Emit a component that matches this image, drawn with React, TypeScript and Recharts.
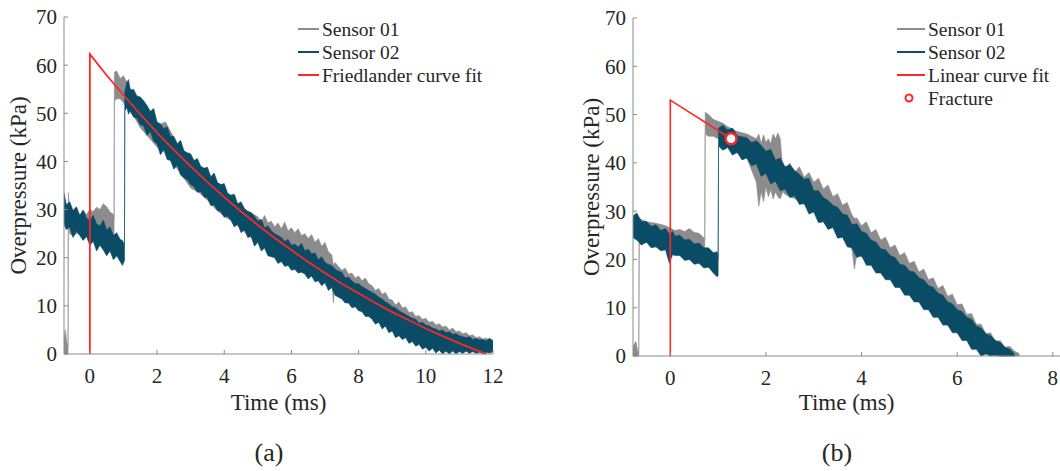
import { Area, ComposedChart, Legend, Line, Scatter, XAxis, YAxis } from 'recharts'

const SERIF = '"Liberation Serif", "Times New Roman", serif'
const AXIS = '#8a8a8a'
const INK = '#262626'
const GRAY = '#8c8c8c'
const TEAL = '#0a4c66'
const RED = '#ff2626'

const yTicks = [0, 10, 20, 30, 40, 50, 60, 70]
const xTicksA = [0, 2, 4, 6, 8, 10, 12]
const xTicksB = [0, 2, 4, 6, 8]

// [time ms, low kPa, high kPa] envelope of the noisy traces
const sensor01A = [
  [-0.77, 0, 3], [-0.73, 0, 5], [-0.69, 0, 2.5], [-0.65, 0, 1.5], [-0.64, 27, 33.5], [-0.6, 25, 30],
  [-0.5, 24.5, 29], [-0.4, 25, 29.5], [-0.3, 25, 28.6], [-0.2, 25.5, 29.8], [-0.1, 25, 29], [0, 25.5, 30],
  [0.1, 25.8, 29.6], [0.2, 26, 30.5], [0.3, 26.5, 30], [0.4, 26.5, 31.2], [0.5, 26, 30.6], [0.6, 25.5, 29.5],
  [0.7, 24.5, 29], [0.72, 24.5, 28], [0.73, 52.5, 58.5], [0.8, 53, 58.8], [0.9, 53, 57.2], [1.0, 52.2, 57.8],
  [1.1, 51, 56.5], [1.3, 49.5, 54], [1.5, 47, 52], [1.75, 45, 50], [2.0, 43, 47.5], [2.25, 42, 48.2],
  [2.5, 39.5, 45], [2.75, 37, 42], [3.0, 34.5, 40], [3.25, 33.5, 38.5], [3.5, 32, 36.8], [3.75, 30, 35],
  [4.0, 28.6, 33], [4.25, 27.5, 31.5], [4.5, 26, 30.5], [4.75, 24.5, 29.5], [5.0, 23.5, 28.5], [5.1, 23, 27.4],
  [5.2, 22.8, 28.8], [5.3, 22.4, 27.2], [5.4, 22.2, 27.6], [5.5, 22, 26.4], [5.6, 21.8, 27.2], [5.7, 21.6, 26],
  [5.8, 21.5, 27.4], [5.9, 21.2, 25.6], [6.0, 21, 26.2], [6.1, 20.8, 25.2], [6.2, 20.6, 26], [6.3, 20.4, 24.6],
  [6.4, 20, 25], [6.5, 19.5, 24], [6.6, 19.2, 24.8], [6.7, 18.8, 23.2], [6.8, 18.2, 24], [6.9, 17.6, 22.4],
  [7.0, 17, 23.2], [7.1, 16.2, 21.2], [7.2, 15.5, 20.6], [7.25, 10.6, 18.5], [7.3, 15, 19], [7.4, 14.4, 18.2],
  [7.5, 13.8, 17.4], [7.6, 13.2, 17.8], [7.7, 12.8, 16.6], [7.8, 12.4, 16.8], [7.9, 12, 15.8], [8.0, 11.5, 16.2],
  [8.1, 11, 15.2], [8.2, 10.6, 15.8], [8.3, 10.2, 14.6], [8.4, 9.6, 14.2], [8.5, 9, 13.2], [8.6, 8.6, 13.6],
  [8.7, 8.2, 12.4], [8.8, 7.6, 12.8], [8.9, 7, 11.4], [9.0, 6.5, 11.2], [9.1, 6, 10.2], [9.2, 5.6, 10.8],
  [9.3, 5.2, 9.6], [9.4, 4.8, 9.8], [9.5, 4.4, 8.6], [9.6, 4, 8.8], [9.7, 3.6, 7.8], [9.8, 3.4, 8],
  [9.9, 3, 7.2], [10.0, 2.8, 7.4], [10.1, 2.5, 6.6], [10.2, 2.2, 6.8], [10.3, 2, 6], [10.4, 1.8, 6.3],
  [10.5, 1.6, 5.6], [10.6, 1.4, 5.8], [10.7, 1.2, 5], [10.8, 1.1, 5.4], [10.9, 1, 4.6], [11.0, 0.9, 4.8],
  [11.1, 0.8, 4.2], [11.2, 0.6, 4.4], [11.3, 0.5, 3.8], [11.4, 0.4, 4], [11.5, 0.3, 3.4], [11.6, 0.2, 3.6],
  [11.7, 0.2, 3.1], [11.8, 0.2, 3.3], [11.9, 0.3, 2.8], [12.0, 0.5, 3],
]

const sensor02A = [
  [-0.77, 27, 33.5], [-0.7, 25.8, 31], [-0.6, 26.4, 31.6], [-0.5, 24.2, 29.8], [-0.4, 25.6, 30.6], [-0.3, 24.6, 28.8],
  [-0.2, 23.6, 29.9], [-0.1, 24.4, 28.2], [0, 22.6, 27.8], [0.1, 23.4, 28.8], [0.2, 21.4, 27], [0.3, 22.6, 26.6],
  [0.4, 21.6, 27.8], [0.5, 20.4, 25.8], [0.6, 21.4, 26.4], [0.7, 19.6, 24.6], [0.8, 20.4, 25.2], [0.9, 19.2, 23.8],
  [0.97, 18.4, 23.6], [1.03, 19.4, 22.6], [1.04, 50.5, 54.5], [1.1, 51.2, 56.4], [1.15, 49.8, 57], [1.2, 50.6, 54.8],
  [1.3, 49.2, 55], [1.4, 49, 53.6], [1.5, 47.6, 53.4], [1.6, 47.4, 52.6], [1.7, 45.4, 51.6], [1.8, 46.2, 50.4],
  [1.9, 44.2, 51], [2.0, 43.6, 48.2], [2.1, 41.4, 47.8], [2.2, 42.4, 46.8], [2.3, 40.4, 47.2], [2.4, 40.2, 45.2],
  [2.5, 38.4, 45.2], [2.6, 39.2, 43.6], [2.7, 37.2, 44.4], [2.8, 36.6, 42.2], [2.9, 36.2, 41.8], [3.0, 35.2, 41.6],
  [3.1, 34.8, 40.2], [3.2, 33.6, 40.6], [3.3, 33.8, 39], [3.4, 32.6, 38.6], [3.5, 32.4, 38.8], [3.6, 30.8, 36.8],
  [3.7, 31, 37.6], [3.8, 29.8, 35.6], [3.9, 29.6, 35.2], [4.0, 28.4, 35.4], [4.1, 28.6, 33.4], [4.2, 27.8, 33],
  [4.3, 26.4, 33.2], [4.4, 27, 31.2], [4.5, 25.2, 31.6], [4.6, 25.8, 30.2], [4.7, 24.2, 29.6], [4.8, 24.4, 29.4],
  [4.9, 22.4, 28.6], [5.0, 23.2, 27.6], [5.1, 21.4, 28], [5.2, 22, 26.2], [5.3, 20.4, 26.6], [5.4, 20.2, 25.6],
  [5.5, 20, 25], [5.6, 18.8, 24.6], [5.7, 19.2, 24.2], [5.8, 18.2, 23.4], [5.9, 18.4, 23.8], [6.0, 17.4, 22.6],
  [6.1, 17.6, 22.8], [6.2, 16.8, 22.2], [6.3, 17, 23], [6.4, 16.6, 21.4], [6.5, 15.6, 21.8], [6.6, 16.2, 20.8],
  [6.7, 15, 21], [6.8, 15.2, 19.6], [6.9, 14.2, 20.2], [7.0, 14.8, 19], [7.1, 13.2, 18.6], [7.2, 13.8, 18.4],
  [7.3, 12.2, 17.6], [7.4, 11.8, 17.2], [7.5, 11.4, 17], [7.6, 10.6, 15.8], [7.7, 10.6, 16], [7.8, 9.6, 15.2],
  [7.9, 9.8, 14.6], [8.0, 9, 14.6], [8.1, 8.8, 14], [8.2, 7.8, 13.6], [8.3, 7.8, 13.2], [8.4, 7.2, 12.8],
  [8.5, 6.2, 12.4], [8.6, 6.6, 11.8], [8.7, 5.2, 11.4], [8.8, 5.8, 10.8], [8.9, 4.4, 10.4], [9.0, 4.8, 9.8],
  [9.1, 3.4, 9.6], [9.2, 3.8, 9], [9.3, 3, 8.6], [9.4, 3.4, 8.2], [9.5, 2.2, 7.8], [9.6, 2.6, 7.4],
  [9.7, 1.6, 7.2], [9.8, 2, 6.4], [9.9, 1, 6.6], [10.0, 1.4, 6], [10.1, 0.6, 5.8], [10.2, 1.2, 5.4],
  [10.3, 0.2, 5.2], [10.4, 0.8, 4.8], [10.5, 0, 5], [10.6, 0.6, 4.4], [10.7, 0, 4.6], [10.8, 0.6, 4.1],
  [10.9, 0, 4.2], [11.0, 0.5, 3.8], [11.1, 0.1, 3.6], [11.2, 0.6, 3.4], [11.3, 0.1, 3.6], [11.4, 0.6, 3],
  [11.5, 0.1, 3.2], [11.6, 0.5, 2.9], [11.7, 0, 3], [11.8, 0.4, 2.7], [11.9, 0.2, 3.3], [12.0, 0.5, 2.6],
]

// Friedlander fit [time ms, kPa]
const fitA = [
  [0, 0], [0, 62.3], [0.5, 57.9], [1, 53.8], [1.5, 49.8], [2, 46.0], [2.5, 42.4], [3, 39.0], [3.5, 35.7],
  [4, 32.6], [4.5, 29.6], [5, 26.8], [5.5, 24.1], [6, 21.6], [6.5, 19.1], [7, 16.8], [7.5, 14.6], [8, 12.6],
  [8.5, 10.6], [9, 8.7], [9.5, 7.0], [10, 5.3], [10.5, 3.7], [11, 2.2], [11.5, 0.8], [11.8, 0],
]

const sensor01B = [
  [-0.78, 0, 2], [-0.72, 0, 3], [-0.68, 0, 1], [-0.66, 0, 0.5], [-0.65, 23, 28.5], [-0.5, 23.5, 27.8],
  [-0.3, 23, 27.5], [-0.1, 22.5, 27], [0.0, 22.5, 26.5], [0.1, 22.8, 26], [0.2, 23, 26.2], [0.3, 23, 25.8],
  [0.4, 22.6, 26.4], [0.5, 22.8, 25.6], [0.6, 22.3, 25.4], [0.7, 21.2, 24.5], [0.72, 21.5, 24], [0.73, 46, 50.5],
  [0.8, 45.5, 50], [0.9, 45.5, 49], [1.0, 45, 48.6], [1.1, 44.5, 48.2], [1.2, 43.5, 47.5], [1.4, 42, 46.5],
  [1.6, 41, 46], [1.8, 36, 45], [1.85, 31, 46], [1.9, 34, 44], [1.95, 32, 45.8], [2.0, 35, 44.2],
  [2.05, 33, 45], [2.1, 34.5, 44], [2.15, 32.5, 46], [2.2, 34, 45], [2.25, 33, 46.2], [2.3, 32.5, 45],
  [2.35, 34, 39], [2.4, 33.5, 38.4], [2.5, 33, 40], [2.6, 32.6, 38], [2.7, 32, 39.2], [2.8, 31.4, 37],
  [2.9, 31, 38], [3.0, 30, 36], [3.1, 29.2, 36.8], [3.2, 28.5, 34.6], [3.3, 27.8, 35.4], [3.4, 27, 33],
  [3.5, 26, 33.6], [3.6, 25, 31.2], [3.7, 24, 31.8], [3.8, 22, 29.2], [3.85, 18, 28.5], [3.9, 21, 28.6],
  [4.0, 20.5, 27], [4.1, 19.8, 27.8], [4.2, 19, 25.5], [4.3, 18.2, 26.2], [4.4, 17.5, 24], [4.5, 17, 24.6],
  [4.6, 16.2, 22.4], [4.7, 15.5, 23], [4.8, 14.8, 20.8], [4.9, 14, 21.4], [5.0, 13, 19.2], [5.1, 12.2, 19.6],
  [5.2, 11.5, 17.4], [5.3, 10.8, 18], [5.4, 10, 15.8], [5.5, 9, 16.2], [5.6, 8.2, 14], [5.7, 7.5, 14.6],
  [5.8, 6.8, 12.4], [5.9, 6, 12.8], [6.0, 5, 10.6], [6.1, 4, 10.8], [6.2, 3.2, 8.6], [6.3, 2.5, 8.8],
  [6.4, 1.8, 6.6], [6.5, 1, 6.6], [6.6, 0.6, 4.6], [6.7, 0.3, 4.8], [6.8, 0, 3], [6.9, 0, 3.2],
  [7.0, 0, 1.8], [7.1, 0, 2], [7.2, 0, 1], [7.3, 0, 0.5],
]

const sensor02B = [
  [-0.78, 24.5, 29], [-0.7, 24, 29.6], [-0.6, 23, 27.8], [-0.5, 23.6, 27.9], [-0.4, 22.4, 26.8], [-0.3, 22.6, 27.2],
  [-0.2, 21.8, 26], [-0.1, 22, 26.4], [-0.02, 19.2, 25.2], [0.05, 21, 25.8], [0.1, 20.8, 24.8], [0.2, 20.8, 25],
  [0.3, 19.8, 24], [0.4, 20, 24.2], [0.5, 19, 23.2], [0.6, 19.2, 23.4], [0.7, 18.2, 22.4], [0.8, 18.4, 22.4],
  [0.9, 17.2, 21.4], [0.98, 16.4, 21.6], [1.0, 16.6, 20.2], [1.01, 43.5, 47.2], [1.1, 42.6, 47.8], [1.2, 43.2, 46.8],
  [1.3, 41.6, 47.2], [1.4, 42.2, 45.6], [1.5, 40.6, 45.4], [1.6, 41, 45.2], [1.7, 39.4, 44.2], [1.8, 39.8, 44.6],
  [1.9, 37.2, 43.6], [2.0, 37.8, 42.4], [2.1, 35.6, 42.8], [2.2, 36.2, 40.6], [2.3, 34.2, 41], [2.4, 34.6, 39.2],
  [2.5, 32.8, 39.6], [2.6, 33.2, 38.4], [2.7, 31.4, 37.6], [2.8, 31.6, 36.6], [2.9, 29.4, 36.8], [3.0, 29.8, 34.2],
  [3.1, 27.6, 34.2], [3.2, 27.8, 32.8], [3.3, 26.2, 32.2], [3.4, 26.6, 31.2], [3.5, 24.4, 30.8], [3.6, 24.6, 29.4],
  [3.7, 22.6, 29.2], [3.8, 22.4, 27.2], [3.9, 20.4, 27.4], [4.0, 20.8, 25.8], [4.1, 18.8, 25.4], [4.2, 18.8, 24],
  [4.3, 17.2, 23.6], [4.4, 17.2, 22.2], [4.5, 15.8, 22], [4.6, 15.8, 20.8], [4.7, 14.2, 20.4], [4.8, 14.2, 19],
  [4.9, 12.6, 18.8], [5.0, 12.6, 17.6], [5.1, 11.2, 17.4], [5.2, 11.2, 16.2], [5.3, 9.6, 15.8], [5.4, 9.6, 14.6],
  [5.5, 8, 14.2], [5.6, 8, 13], [5.7, 6.4, 12.6], [5.8, 6.4, 11.2], [5.9, 4.8, 10.8], [6.0, 4.8, 9.6],
  [6.1, 3.2, 9.2], [6.2, 3.2, 8], [6.3, 1.4, 7.6], [6.4, 1.4, 6.2], [6.5, 0, 5.8], [6.6, 0.4, 4.6],
  [6.7, 0, 4.2], [6.8, 0.2, 3.2], [6.9, 0, 2.8], [7.0, 0, 1.8], [7.1, 0, 1.4], [7.2, 0, 0.4],
]

const fitB = [[0, 0], [0, 53], [1.27, 45]]
const fractureB = [[1.27, 45]]

const toBand = (rows: number[][]) => rows.map(([t, lo, hi]) => ({ t, band: [lo, hi] }))
const toPoints = (rows: number[][]) => rows.map(([t, v]) => ({ t, v }))

type LegendItem = { label: string; color: string; marker?: boolean }

function LegendBox({ items, lineLen, markerX }: { items: LegendItem[]; lineLen: number; markerX: number }) {
  const rows = [14, 37, 60, 83]
  return (
    <svg width={240} height={100} style={{ display: 'block', overflow: 'visible' }}>
      {items.map((it, i) => (
        <g key={it.label}>
          {it.marker ? (
            <circle cx={markerX} cy={rows[i]} r={3.5} fill="#fff" stroke={it.color} strokeWidth={2} />
          ) : (
            <line x1={8} x2={8 + lineLen} y1={rows[i]} y2={rows[i]} stroke={it.color} strokeWidth={2} />
          )}
          <text x={11 + lineLen} y={rows[i]} dominantBaseline="central" fontFamily={SERIF} fontSize={19.5} fill={INK}>
            {it.label}
          </text>
        </g>
      ))}
    </svg>
  )
}

interface PanelProps {
  yAxisWidth: number
  marginRight: number
  top: number
  plotHeight: number
  domainX: [number, number]
  xTicks: number[]
  s01: number[][]
  s02: number[][]
  fit: number[][]
  fitWidth: number
  fracture?: number[][]
  legend: LegendItem[]
  legendLeft: number
  lineLen: number
  yTitleX: number
  tagX: number
  tag: string
}

function Panel(p: PanelProps) {
  const xAxisHeight = 471 - p.top - p.plotHeight
  return (
    <ComposedChart width={530} height={471} margin={{ top: p.top, right: p.marginRight, bottom: 0, left: 0 }}>
      <XAxis
        type="number"
        dataKey="t"
        domain={p.domainX}
        ticks={p.xTicks}
        allowDataOverflow
        height={xAxisHeight}
        stroke={AXIS}
        tickSize={-4}
        tickMargin={18}
        tick={{ fontFamily: SERIF, fontSize: 21, fill: INK }}
        label={(props: any) => {
          const vb = props.viewBox
          return (
            <g fontFamily={SERIF} fill={INK}>
              <text x={vb.x + vb.width / 2} y={402} textAnchor="middle" dominantBaseline="central" fontSize={23}>
                Time (ms)
              </text>
              <text x={p.tagX} y={452} textAnchor="middle" dominantBaseline="central" fontSize={26}>
                {p.tag}
              </text>
            </g>
          )
        }}
      />
      <YAxis
        type="number"
        domain={[0, 70]}
        ticks={yTicks}
        width={p.yAxisWidth}
        stroke={AXIS}
        tickSize={-4}
        tickMargin={11}
        tick={{ fontFamily: SERIF, fontSize: 21, fill: INK }}
        label={(props: any) => {
          const vb = props.viewBox
          const cy = vb.y + vb.height / 2
          return (
            <text
              x={p.yTitleX}
              y={cy}
              transform={`rotate(-90 ${p.yTitleX} ${cy})`}
              textAnchor="middle"
              dominantBaseline="central"
              fontFamily={SERIF}
              fontSize={23}
              fill={INK}
            >
              Overpressure (kPa)
            </text>
          )
        }}
      />
      <Area
        data={toBand(p.s01)}
        dataKey="band"
        type="linear"
        stroke={GRAY}
        strokeWidth={0.6}
        fill={GRAY}
        fillOpacity={1}
        isAnimationActive={false}
      />
      <Area
        data={toBand(p.s02)}
        dataKey="band"
        type="linear"
        stroke={TEAL}
        strokeWidth={0.6}
        fill={TEAL}
        fillOpacity={1}
        isAnimationActive={false}
      />
      <Line
        data={toPoints(p.fit)}
        dataKey="v"
        type="linear"
        stroke={RED}
        strokeWidth={p.fitWidth}
        dot={false}
        isAnimationActive={false}
      />
      {p.fracture && (
        <Scatter
          data={toPoints(p.fracture)}
          dataKey="v"
          isAnimationActive={false}
          shape={(s: any) => <circle cx={s.cx} cy={s.cy} r={5.5} fill="#fff" stroke={RED} strokeWidth={2.5} />}
        />
      )}
      <Legend
        layout="horizontal"
        verticalAlign="middle"
        align="center"
        wrapperStyle={{ left: p.legendLeft, top: 15, width: 240, height: 100 }}
        content={() => <LegendBox items={p.legend} lineLen={p.lineLen} markerX={20} />}
      />
    </ComposedChart>
  )
}

export default function App() {
  return (
    <div style={{ position: 'absolute', left: 0, top: 0, width: 1060, height: 471, background: '#fff', overflow: 'hidden' }}>
      <div style={{ position: 'absolute', left: 0, top: 0 }}>
        <Panel
          yAxisWidth={64}
          marginRight={37}
          top={17}
          plotHeight={337}
          domainX={[-0.77, 12]}
          xTicks={xTicksA}
          s01={sensor01A}
          s02={sensor02A}
          fit={fitA}
          fitWidth={1.8}
          legend={[
            { label: 'Sensor 01', color: GRAY },
            { label: 'Sensor 02', color: TEAL },
            { label: 'Friedlander curve fit', color: RED },
          ]}
          legendLeft={290}
          lineLen={21}
          yTitleX={18}
          tagX={269}
          tag="(a)"
        />
      </div>
      <div style={{ position: 'absolute', left: 530, top: 0 }}>
        <Panel
          yAxisWidth={103}
          marginRight={0}
          top={18}
          plotHeight={338}
          domainX={[-0.78, 8.15]}
          xTicks={xTicksB}
          s01={sensor01B}
          s02={sensor02B}
          fit={fitB}
          fitWidth={1.6}
          fracture={fractureB}
          legend={[
            { label: 'Sensor 01', color: GRAY },
            { label: 'Sensor 02', color: TEAL },
            { label: 'Linear curve fit', color: RED },
            { label: 'Fracture', color: RED, marker: true },
          ]}
          legendLeft={359}
          lineLen={28}
          yTitleX={61}
          tagX={307}
          tag="(b)"
        />
      </div>
    </div>
  )
}
